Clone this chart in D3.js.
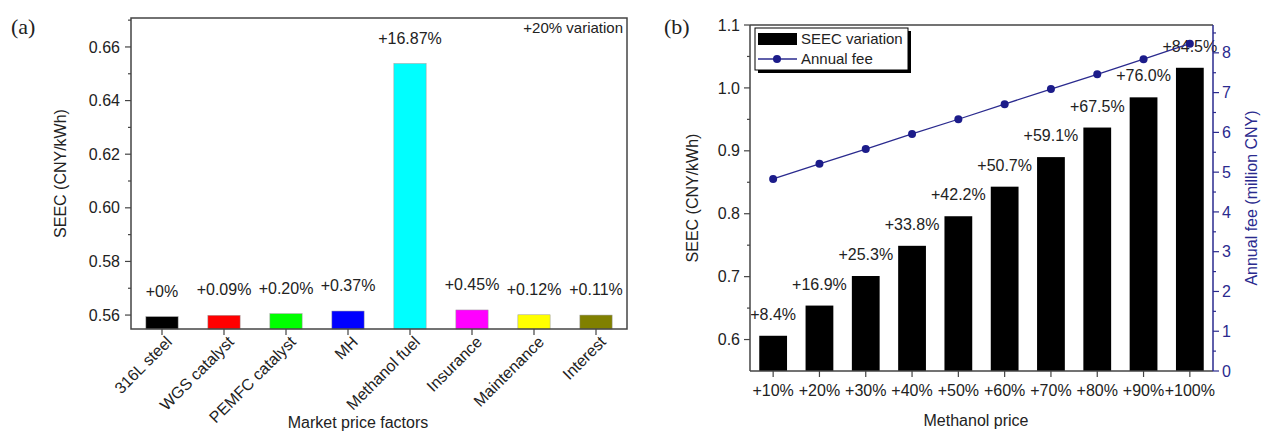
<!DOCTYPE html>
<html>
<head>
<meta charset="utf-8">
<script src="https://cdn.jsdelivr.net/npm/d3@7"></script>
<style>
  body { margin: 0; background: #fff; }
  svg text { font-family: "Liberation Sans", Arial, sans-serif; fill: #222; }
</style>
</head>
<body>
<svg width="1268" height="434"></svg>
<script>
// ---- data, panel (a): +20% variation of each market price factor
const factors = ["316L steel", "WGS catalyst", "PEMFC catalyst", "MH", "Methanol fuel", "Insurance", "Maintenance", "Interest"];
const seecA = [0.5594, 0.5599, 0.5605, 0.5615, 0.6538, 0.5619, 0.5601, 0.5600];
const pctA = ["+0%", "+0.09%", "+0.20%", "+0.37%", "+16.87%", "+0.45%", "+0.12%", "+0.11%"];
const ticksA = [0.56, 0.58, 0.60, 0.62, 0.64, 0.66];

// ---- data, panel (b): methanol price increase
const priceSteps = ["+10%", "+20%", "+30%", "+40%", "+50%", "+60%", "+70%", "+80%", "+90%", "+100%"];
const seecB = [0.606, 0.654, 0.701, 0.749, 0.796, 0.843, 0.890, 0.937, 0.985, 1.032];
const pctB = ["+8.4%", "+16.9%", "+25.3%", "+33.8%", "+42.2%", "+50.7%", "+59.1%", "+67.5%", "+76.0%", "+84.5%"];
const annualFee = [4.83, 5.21, 5.58, 5.96, 6.33, 6.71, 7.09, 7.46, 7.84, 8.23];
const ticksBL = [0.6, 0.7, 0.8, 0.9, 1.0, 1.1];
const ticksBR = [0, 1, 2, 3, 4, 5, 6, 7, 8];

const svg = d3.select("svg");
const axisCol = "#444";
const blue = "#2a2a8e";

// helper: outward ticks on a vertical axis
function yTicks(g, scale, xPos, values, len, dir, col) {
  g.selectAll(null).data(values).enter().append("line")
    .attr("x1", xPos).attr("x2", xPos + dir * len)
    .attr("y1", d => scale(d)).attr("y2", d => scale(d))
    .attr("stroke", col).attr("stroke-width", 1.2);
}

/*************************************************************************/
// Panel (a)
{
  const L = 131, T = 18, R = 627, B = 329;
  const g = svg.append("g");

  const x = d3.scaleBand().domain(factors).range([L, R]).paddingInner(0.48).paddingOuter(0.24);
  const y = d3.scaleLinear().domain([0.5548, 0.6708]).range([B, T]);
  const color = d3.scaleOrdinal().domain(factors)
    .range(["#000000", "#ff0000", "#00ff00", "#0000ff", "#00ffff", "#ff00ff", "#ffff00", "#808000"]);

  g.selectAll(".barA").data(factors).enter().append("rect")
    .attr("x", d => x(d))
    .attr("width", x.bandwidth())
    .attr("y", (d, i) => y(seecA[i]))
    .attr("height", (d, i) => B - y(seecA[i]))
    .attr("fill", d => color(d))
    .attr("stroke", "#999").attr("stroke-width", 0.5);

  g.selectAll(".lblA").data(factors).enter().append("text")
    .attr("x", d => x(d) + x.bandwidth() / 2)
    .attr("y", (d, i) => y(seecA[i]) - 20)
    .attr("text-anchor", "middle")
    .attr("font-size", 16)
    .text((d, i) => pctA[i]);

  // frame
  g.append("rect").attr("x", L).attr("y", T).attr("width", R - L).attr("height", B - T)
    .attr("fill", "none").attr("stroke", axisCol).attr("stroke-width", 1.5);

  // y ticks
  const minorA = d3.range(0.57, 0.67, 0.02);
  yTicks(g, y, L, ticksA, 6, -1, axisCol);
  yTicks(g, y, L, minorA, 3, -1, axisCol);
  g.selectAll(".tyA").data(ticksA).enter().append("text")
    .attr("x", L - 11).attr("y", d => y(d)).attr("dy", "0.35em")
    .attr("text-anchor", "end").attr("font-size", 16)
    .text(d => d3.format(".2f")(d));

  // x ticks + rotated labels
  g.selectAll(".txA").data(factors).enter().append("line")
    .attr("x1", d => x(d) + x.bandwidth() / 2).attr("x2", d => x(d) + x.bandwidth() / 2)
    .attr("y1", B).attr("y2", B + 6).attr("stroke", axisCol).attr("stroke-width", 1.2);
  g.selectAll(".xlA").data(factors).enter().append("text")
    .attr("transform", d => `translate(${x(d) + x.bandwidth() / 2 + 7},${B + 10}) rotate(-45)`)
    .attr("text-anchor", "end").attr("dy", "0.35em").attr("font-size", 16)
    .text(d => d);

  g.append("text").attr("x", 358).attr("y", 428).attr("text-anchor", "middle")
    .attr("font-size", 16).text("Market price factors");
  g.append("text").attr("transform", `translate(66,${(T + B) / 2}) rotate(-90)`)
    .attr("text-anchor", "middle").attr("font-size", 16).text("SEEC (CNY/kWh)");
  g.append("text").attr("x", R - 4).attr("y", T + 15).attr("text-anchor", "end")
    .attr("font-size", 15).text("+20% variation");
  g.append("text").attr("x", 11).attr("y", 34).attr("font-size", 22)
    .style("font-family", "'Liberation Serif', 'Times New Roman', serif").text("(a)");
}

/*************************************************************************/
// Panel (b)
{
  const L = 750, T = 25, R = 1213, B = 371;
  const g = svg.append("g");

  const x = d3.scaleBand().domain(priceSteps).range([L, R]).paddingInner(0.4).paddingOuter(0.2);
  const y = d3.scaleLinear().domain([0.55, 1.1]).range([B, T]);
  const y2 = d3.scaleLinear().domain([0, 8.7]).range([B, T]);
  const cx = d => x(d) + x.bandwidth() / 2;

  g.selectAll(".barB").data(priceSteps).enter().append("rect")
    .attr("x", d => x(d))
    .attr("width", x.bandwidth())
    .attr("y", (d, i) => y(seecB[i]))
    .attr("height", (d, i) => B - y(seecB[i]))
    .attr("fill", "#000");

  g.selectAll(".lblB").data(priceSteps).enter().append("text")
    .attr("x", d => cx(d))
    .attr("y", (d, i) => y(seecB[i]) - 16)
    .attr("text-anchor", "middle")
    .attr("font-size", 16)
    .text((d, i) => pctB[i]);

  // annual fee line
  const line = d3.line().x((d, i) => cx(priceSteps[i])).y(d => y2(d));
  g.append("path").datum(annualFee).attr("d", line)
    .attr("fill", "none").attr("stroke", blue).attr("stroke-width", 1.3);
  g.selectAll(".dotB").data(annualFee).enter().append("circle")
    .attr("cx", (d, i) => cx(priceSteps[i])).attr("cy", d => y2(d)).attr("r", 4)
    .attr("fill", "#1c1c8a");

  // frame: left, top, bottom dark, right blue
  g.append("line").attr("x1", L).attr("x2", R).attr("y1", T).attr("y2", T).attr("stroke", axisCol).attr("stroke-width", 1.5);
  g.append("line").attr("x1", L).attr("x2", R).attr("y1", B).attr("y2", B).attr("stroke", axisCol).attr("stroke-width", 1.5);
  g.append("line").attr("x1", L).attr("x2", L).attr("y1", T).attr("y2", B).attr("stroke", axisCol).attr("stroke-width", 1.5);
  g.append("line").attr("x1", R).attr("x2", R).attr("y1", T).attr("y2", B).attr("stroke", blue).attr("stroke-width", 1.5);

  // left ticks
  yTicks(g, y, L, ticksBL, 6, -1, axisCol);
  yTicks(g, y, L, d3.range(0.65, 1.1, 0.1), 3, -1, axisCol);
  g.selectAll(".tyB").data(ticksBL).enter().append("text")
    .attr("x", L - 10).attr("y", d => y(d)).attr("dy", "0.35em")
    .attr("text-anchor", "end").attr("font-size", 16)
    .text(d => d3.format(".1f")(d));

  // right ticks
  yTicks(g, y2, R, ticksBR, 6, 1, blue);
  yTicks(g, y2, R, d3.range(0.5, 8.7, 1), 3, 1, blue);
  g.selectAll(".tyB2").data(ticksBR).enter().append("text")
    .attr("x", R + 9).attr("y", d => y2(d)).attr("dy", "0.35em")
    .attr("text-anchor", "start").attr("font-size", 16)
    .style("fill", blue)
    .text(d => d);

  // x ticks
  g.selectAll(".txB").data(priceSteps).enter().append("line")
    .attr("x1", d => cx(d)).attr("x2", d => cx(d))
    .attr("y1", B).attr("y2", B + 6).attr("stroke", axisCol).attr("stroke-width", 1.2);
  g.selectAll(".xlB").data(priceSteps).enter().append("text")
    .attr("x", d => cx(d)).attr("y", B + 25)
    .attr("text-anchor", "middle").attr("font-size", 16)
    .text(d => d);

  g.append("text").attr("x", 976).attr("y", 426).attr("text-anchor", "middle")
    .attr("font-size", 16).text("Methanol price");
  g.append("text").attr("transform", `translate(698,${(T + B) / 2}) rotate(-90)`)
    .attr("text-anchor", "middle").attr("font-size", 16).text("SEEC (CNY/kWh)");
  g.append("text").attr("transform", `translate(1257,${(T + B) / 2}) rotate(-90)`)
    .attr("text-anchor", "middle").attr("font-size", 16).style("fill", blue)
    .text("Annual fee (million CNY)");
  g.append("text").attr("x", 664).attr("y", 34).attr("font-size", 22)
    .style("font-family", "'Liberation Serif', 'Times New Roman', serif").text("(b)");

  // legend with drop shadow
  const lg = g.append("g").attr("transform", "translate(755,28)");
  lg.append("rect").attr("x", 3).attr("y", 3).attr("width", 153).attr("height", 42).attr("fill", "#000");
  lg.append("rect").attr("width", 153).attr("height", 42).attr("fill", "#fff")
    .attr("stroke", "#000").attr("stroke-width", 1);
  lg.append("rect").attr("x", 3).attr("y", 5).attr("width", 39).attr("height", 12).attr("fill", "#000");
  lg.append("text").attr("x", 46).attr("y", 11).attr("dy", "0.35em").attr("font-size", 15).text("SEEC variation");
  lg.append("line").attr("x1", 3).attr("x2", 42).attr("y1", 31).attr("y2", 31).attr("stroke", blue).attr("stroke-width", 1.3);
  lg.append("circle").attr("cx", 22).attr("cy", 31).attr("r", 4).attr("fill", "#1c1c8a");
  lg.append("text").attr("x", 46).attr("y", 31).attr("dy", "0.35em").attr("font-size", 15).text("Annual fee");
}
</script>
</body>
</html>
